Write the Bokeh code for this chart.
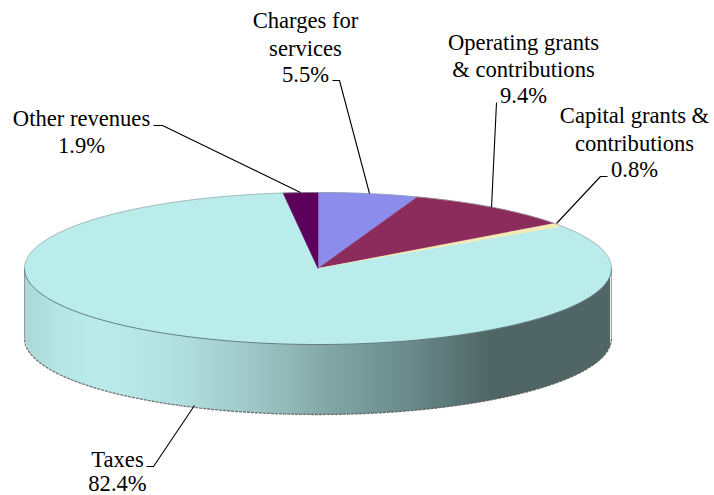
import numpy as np
from bokeh.plotting import figure
from bokeh.embed import file_html
from bokeh.resources import INLINE
from bokeh.core.properties import value

categories = ["Charges for services", "Operating grants & contributions", "Capital grants & contributions", "Taxes", "Other revenues"]
shares = [5.5, 9.4, 0.8, 82.4, 1.9]
colors = ["#8C8CEC", "#8C2C5C", "#F4ECB4", "#BBECEC", "#5C005C"]

CX, CY, RX, RY, DEPTH = 317.5, 268.0, 293.5, 76.0, 70.0
grad_x = [24, 60, 100, 170, 250, 330, 410, 490, 611]
grad_rgb = [(172,216,216),(182,230,230),(187,236,236),(180,226,226),(160,200,200),(130,166,166),(106,138,138),(80,102,102),(80,102,102)]

labels = [
    (["Charges for", "services", "5.5%"], 305, [20, 47.5, 74]),
    (["Operating grants", "& contributions", "9.4%"], 523, [42, 69, 95]),
    (["Capital grants &", "contributions", "0.8%"], 634, [115, 143, 169]),
    (["Other revenues", "1.9%"], 81, [118, 145]),
    (["Taxes", "82.4%"], 117, [459, 483]),
]
leaders = [
    ([332, 339, 369], [80, 80, 193]),
    ([496, 491], [102, 207]),
    ([607, 600, 556], [176, 176, 223]),
    ([153, 162, 300], [125, 125, 192]),
    ([146, 153, 194], [466, 466, 405]),
]

p = figure(width=714, height=495, x_range=(0, 714), y_range=(495, 0), output_backend="svg",
           toolbar_location=None, min_border=0, outline_line_color=None)
p.axis.visible = False
p.grid.visible = False

def ell(t):
    return CX + RX*np.sin(t), CY - RY*np.cos(t)

# side wall: strips following the front half of the ellipse
xs_edge = np.arange(24, 611.5, 3.0)
xs, ys, cs = [], [], []
for a, b in zip(xs_edge[:-1], xs_edge[1:]):
    b2 = b + 0.6
    ya = CY + RY*np.sqrt(np.clip(1-((a-CX)/RX)**2, 0, 1))
    yb = CY + RY*np.sqrt(np.clip(1-((min(b2,611)-CX)/RX)**2, 0, 1))
    xs.append([a, b2, b2, a]); ys.append([ya-1, yb-1, yb+DEPTH, ya+DEPTH])
    m = (a+b)/2
    c = [int(np.interp(m, grad_x, [g[i] for g in grad_rgb])) for i in range(3)]
    cs.append("#%02x%02x%02x" % tuple(c))
p.patches(xs, ys, fill_color=cs, line_color=None)

# bottom rim and sides
t = np.linspace(np.pi/2, 3*np.pi/2, 300)
ex, ey = ell(t)
p.line(ex, ey+DEPTH, line_color="#555555", line_width=1.3, line_dash="3 1", line_alpha=0.8)
p.line([CX-RX, CX-RX], [CY, CY+DEPTH], line_color="#777777", line_width=0.7)
p.line([CX+RX, CX+RX], [CY, CY+DEPTH], line_color="#777777", line_width=0.7)

# top slices
start = 0.0
for s, c in zip(shares, colors):
    end = start + s/100*2*np.pi
    t = np.linspace(start, end, max(int(s*6), 4))
    ex, ey = ell(t)
    p.patch(np.r_[CX, ex], np.r_[CY, ey], fill_color=c, line_color=c, line_width=0.5)
    start = end
# rims: faint at the back, darker along the front
t = np.linspace(-np.pi/2, np.pi/2, 300)
ex, ey = ell(t)
p.line(ex, ey, line_color="#8a9a9a", line_width=0.8, line_alpha=0.8)
t = np.linspace(np.pi/2, 3*np.pi/2, 300)
ex, ey = ell(t)
p.line(ex, ey, line_color="#3a4a4a", line_width=0.8, line_alpha=0.85)

for lx, ly in leaders:
    p.line(lx, ly, line_color="black", line_width=1.1)

for lines, x, y in labels:
    p.text([x]*len(lines), y, text=lines, text_align="center", text_baseline="middle",
           text_font=value("Liberation Serif"), text_font_size="22.6px", text_color="black")

open("out.html", "w").write(file_html(p, INLINE))
